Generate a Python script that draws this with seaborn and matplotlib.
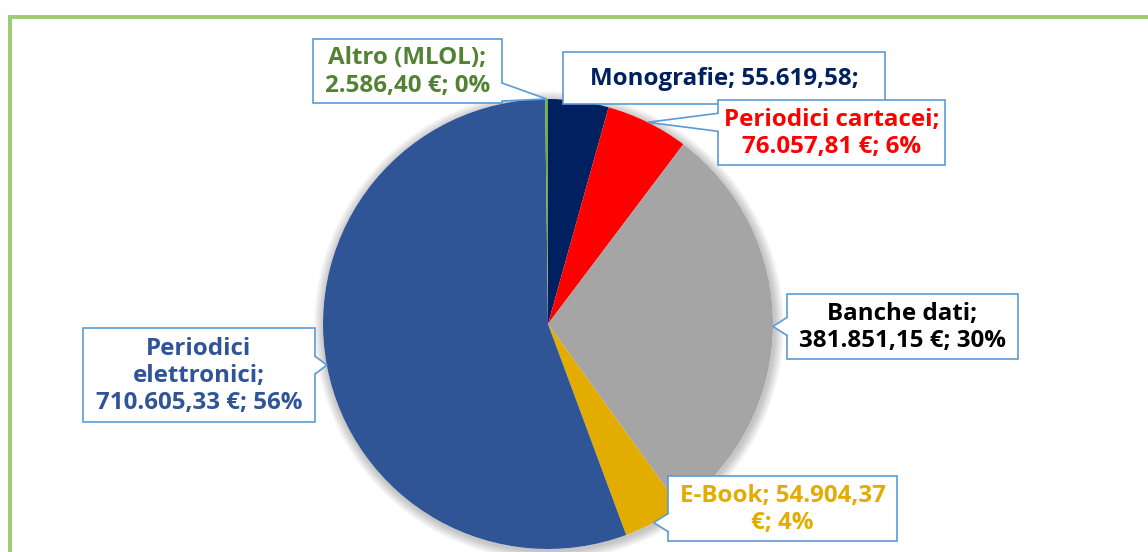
import numpy as np
import matplotlib
matplotlib.use("Agg")
import matplotlib.pyplot as plt
from matplotlib.patches import Rectangle, Polygon, Circle
import seaborn as sns

# =====================================================
# DATA
# =====================================================

categories = [
    "Monografie",
    "Periodici cartacei",
    "Banche dati",
    "E-Book",
    "Periodici elettronici",
    "Altro (MLOL)",
]

amounts = [55619.58, 76057.81, 381851.15, 54904.37, 710605.33, 2586.40]

labels = [
    "Monografie; 55.619,58;",
    "Periodici cartacei;\n76.057,81 €; 6%",
    "Banche dati;\n381.851,15 €; 30%",
    "E-Book; 54.904,37\n€; 4%",
    "Periodici\nelettronici;\n710.605,33 €; 56%",
    "Altro (MLOL);\n2.586,40 €; 0%",
]

slice_colors = ["#002060", "#FF0000", "#A5A5A5", "#E3AC00", "#2F5597", "#70AD47"]
text_colors = ["#002060", "#FF0000", "#000000", "#E3AC00", "#2F5597", "#548235"]

# label boxes (x0, y0, x1, y1) in pixels, origin top-left
boxes = [
    (563, 52, 885, 104),
    (718, 100, 945, 165),
    (787, 294, 1018, 359),
    (668, 476, 897, 541),
    (83, 328, 315, 422),
    (313, 39, 502, 103),
]
show_leader = [False, True, True, True, True, True]

# =====================================================
# FIGURE
# =====================================================

sns.set_theme(style="white")
plt.rcParams["font.family"] = ["Open Sans", "DejaVu Sans"]

W, H = 1148, 552
fig = plt.figure(figsize=(W / 100, H / 100), dpi=100)
ax = fig.add_axes([0, 0, 1, 1])

cx, cy, r = 548, 324, 225
edge_blue = "#5B9BD5"

# soft shadow behind the pie
for k in range(1, 11):
    ax.add_patch(Circle((cx + 1, cy + 2), r + k, color="#000000",
                        alpha=0.022, lw=0, zorder=0))
ax.add_patch(Circle((cx, cy), r, color="white", lw=0, zorder=0.5))

wedges, _ = ax.pie(
    amounts,
    colors=slice_colors,
    center=(cx, cy),
    radius=r,
    startangle=270,
    counterclock=True,
    wedgeprops=dict(linewidth=0, zorder=1),
)

# =====================================================
# CALLOUT LABELS
# =====================================================

for i, w in enumerate(wedges):
    x0, y0, x1, y1 = boxes[i]
    ax.add_patch(Rectangle((x0, y0), x1 - x0, y1 - y0, fc="white",
                           ec=edge_blue, lw=1.2, zorder=4))
    ax.text((x0 + x1) / 2, (y0 + y1) / 2 + 1, labels[i],
            ha="center", va="center", color=text_colors[i],
            fontsize=17.4, fontweight="bold", linespacing=1.18, zorder=7)

    if not show_leader[i]:
        continue

    mid = np.deg2rad((w.theta1 + w.theta2) / 2)
    tx = cx + r * np.cos(mid)
    ty = cy + r * np.sin(mid)

    if tx > x1 or tx < x0:
        sx = x1 if tx > x1 else x0
        inset = -1.5 if tx > x1 else 1.5
        yc = np.clip(ty, y0 + 11, y1 - 11)
        b1, b2 = (sx, yc - 9), (sx, yc + 9)
        f1, f2 = (sx + inset, yc - 9), (sx + inset, yc + 9)
    else:
        sy = y1 if ty > y1 else y0
        inset = -1.5 if ty > y1 else 1.5
        xc = np.clip(tx, x0 + 11, x1 - 11)
        b1, b2 = (xc - 9, sy), (xc + 9, sy)
        f1, f2 = (xc - 9, sy + inset), (xc + 9, sy + inset)

    ax.add_patch(Polygon([f1, (tx, ty), f2], closed=True, fc="white",
                         lw=0, zorder=5))
    ax.plot([b1[0], tx, b2[0]], [b1[1], ty, b2[1]], color=edge_blue,
            lw=1.2, zorder=6, solid_joinstyle="miter")

# =====================================================
# GREEN FRAME
# =====================================================

ax.plot([8, W], [17, 17], color="#9BCB74", lw=2.8, zorder=8,
        solid_capstyle="butt")
ax.plot([10, 10], [17, H], color="#9BCB74", lw=2.8, zorder=8,
        solid_capstyle="butt")

ax.set_xlim(0, W)
ax.set_ylim(H, 0)
ax.set_aspect("equal")
ax.set_axis_off()

fig.savefig("out.png", dpi=100)
